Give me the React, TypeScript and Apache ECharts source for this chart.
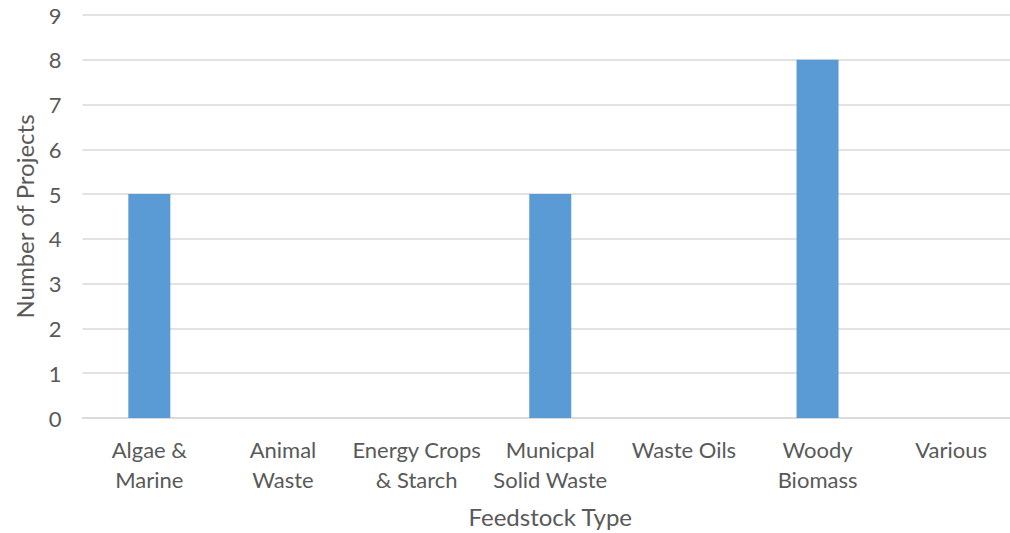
import React, { useEffect, useRef } from "react";
import * as echarts from "echarts";

const categories = [
  "Algae &\nMarine",
  "Animal\nWaste",
  "Energy Crops\n& Starch",
  "Municpal\nSolid Waste",
  "Waste Oils",
  "Woody\nBiomass",
  "Various",
];
const projects = [5, 0, 0, 5, 0, 8, 0];
const yTicks = { min: 0, max: 9, interval: 1 };

export default function App() {
  const ref = useRef<HTMLDivElement>(null);
  useEffect(() => {
    if (!ref.current) return;
    const chart = echarts.init(ref.current, null, { renderer: "svg" });
    const font = "Lato, 'Open Sans', sans-serif";
    chart.setOption({
      animation: false,
      textStyle: { fontFamily: font },
      grid: { left: 82.5, right: 0, top: 15, bottom: 113 },
      xAxis: {
        type: "category",
        data: categories,
        name: "Feedstock Type",
        nameLocation: "middle",
        nameGap: 86,
        nameTextStyle: { fontSize: 24, color: "#595959", fontFamily: font },
        axisLine: { lineStyle: { color: "#d9d9d9", width: 1.5 } },
        axisTick: { show: false },
        axisLabel: {
          fontSize: 22,
          color: "#595959",
          lineHeight: 30,
          margin: 16,
          interval: 0,
          fontFamily: font,
        },
      },
      yAxis: {
        type: "value",
        min: yTicks.min,
        max: yTicks.max,
        interval: yTicks.interval,
        name: "Number of Projects",
        nameLocation: "middle",
        nameGap: 46,
        nameTextStyle: { fontSize: 24, color: "#595959", fontFamily: font },
        axisLine: { show: false },
        axisTick: { show: false },
        axisLabel: { fontSize: 22, color: "#595959", margin: 21, fontFamily: font },
        splitLine: { lineStyle: { color: "#d9d9d9", width: 1.5 } },
      },
      series: [
        {
          type: "bar",
          data: projects,
          barWidth: 42,
          itemStyle: { color: "#5b9bd5" },
        },
      ],
    });
    return () => chart.dispose();
  }, []);
  return (
    <div
      ref={ref}
      style={{ position: "fixed", left: 0, top: 0, width: 1018, height: 533, background: "#fff" }}
    />
  );
}
